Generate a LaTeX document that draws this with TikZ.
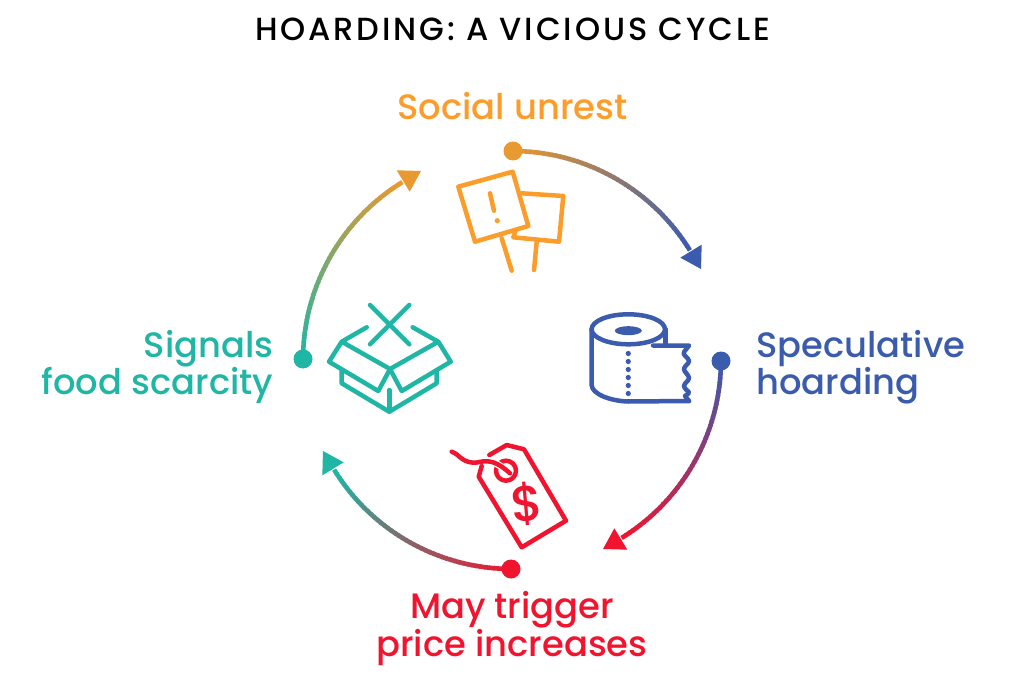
\documentclass[tikz,border=0pt]{standalone}
\usepackage{fontspec}
\setmainfont{Poppins Medium}
\newfontfamily\titlefont[LetterSpace=9]{Poppins Medium}
\usetikzlibrary{calc}
\definecolor{corange}{HTML}{FC9D2B}
\definecolor{cdot}{HTML}{E8992F}
\definecolor{cblue}{HTML}{3B5BAD}
\definecolor{cred}{HTML}{F0142F}
\definecolor{cteal}{HTML}{1FB6A5}
\tikzset{
 lab/.style={inner sep=0pt,font=\fontsize{35.3}{36}\selectfont,align=#1},
 lab/.default=center,
 icon/.style={line width=4.5pt,line cap=round,line join=round},
 dotnode/.style={circle,inner sep=0pt,minimum size=19pt,fill=#1},
}
\newcommand{\gradarc}[5]{% start angle, colour A, colour B, tip name, start node
 \foreach \i in {0,...,47}{
  \pgfmathsetmacro{\aa}{#1+\i*58/48}
  \pgfmathsetmacro{\ab}{#1+(\i+1.3)*58/48}
  \pgfmathsetmacro{\pp}{100-\i*100/47}
  \draw[line width=4.6pt,color=#3!\pp!#2] ($(c)+(\aa:209)$) -- ($(c)+(\ab:209)$);
 }
 \pgfmathsetmacro{\at}{#1+64.3}
 \pgfmathsetmacro{\ac}{#1+58.7}
 \coordinate (#4) at ($(c)+(\at:209.8)$);
 \fill[color=#2] (#4) -- ($(c)+(\ac:222)$) -- ($(c)+(\ac:197)$) -- cycle;
}
\begin{document}
\begin{tikzpicture}[x=1pt,y=-1pt]
\useasboundingbox (0,0) rectangle (1024,700);
\coordinate (c) at (512,360);
\node[inner sep=0pt,font=\titlefont\fontsize{32}{32}\selectfont,anchor=base] (title) at (512.5,41) {HOARDING: A VICIOUS CYCLE};
% arcs
\newcommand{\arcone}[3]{\gradarc{#1}{#3}{#2}{tip#1}{}}
\arcone{-90}{cdot}{cblue}
\arcone{0}{cblue}{cred}
\arcone{90}{cred}{cteal}
\arcone{180}{cteal}{cdot}
\node[dotnode=cdot] (d1) at (513,151) {};
\node[dotnode=cblue] (d2) at (721,361) {};
\node[dotnode=cred] (d3) at (511,569) {};
\node[dotnode=cteal] (d4) at (303,359) {};
% labels
\node[lab,text=corange,anchor=base] (l1) at (512.5,119.5) {Social unrest};
\node[lab=left,text=cblue,anchor=west] (l2) at (756,367) {Speculative\\hoarding};
\node[lab,text=cred,anchor=center] (l3) at (512,628.5) {May trigger\\price increases};
\node[lab=right,text=cteal,anchor=east] (l4) at (273.5,367) {Signals\\food scarcity};
% signs
\begin{scope}[icon,draw=corange]
 \draw (458.3,186.7) -- (512.7,171.7) -- (528.3,226) -- (475,241.7) -- cycle;
 \draw (501.7,238.3) -- (511.7,270.7);
 \draw (521.7,193.3) -- (563.3,196) -- (559,241.7) -- (513.3,237.3) -- (515.5,231);
 \draw (536.7,241.7) -- (534,270);
 \draw (490,193.3) -- (494,210.7);
 \fill[corange] (497.3,220.7) circle (2.6);
\end{scope}
% roll
\begin{scope}[icon,draw=cblue]
 \draw (628.3,329.3) ellipse [x radius=36.7,y radius=15];
 \fill[cblue] (628.3,330.7) ellipse [x radius=13.5,y radius=4.5];
 \draw (591.6,329.3) -- (591.6,385) .. controls (592,394) and (610,401) .. (628.3,401.5) -- (689,401);
 \draw (665.7,329.3) -- (665.7,345);
 \draw (653,345.5) -- (689,345.5) -- (684,352) .. controls (682,355) and (689,358) .. (689,361) .. controls (689,364) and (684,366) .. (684,369) .. controls (684,372) and (689,375) .. (689,378) .. controls (689,381) and (684,383) .. (684,386) .. controls (684,389) and (689,391) .. (689,393) -- (685,396) -- (689,401);
 \foreach \yy in {353.5,361.5,369.5,377.5,385.5,393.5}
  \fill[cblue] (628.3,\yy) circle (2.6);
\end{scope}
% tag
\begin{scope}[icon,draw=cred]
 \draw (489.3,455) -- (506.7,445) -- (524,449.3) -- (566,520.7) -- (521.7,547.3) -- (478.7,476.7) -- (481.7,466);
 \draw (506,470.7) circle (10);
 \draw[white,line width=7pt,line cap=butt] (476,461.5) .. controls (484,459) and (494,460) .. (504,469);
 \draw (451.7,451.7) .. controls (458,453) and (461,462) .. (473.3,462.7) .. controls (482,463) and (490,455) .. (510,473.3);
 \node[text=cred,font=\fontsize{50}{50}\selectfont,inner sep=0pt,rotate=5] (dollar) at (527,504) {\$};
\end{scope}
% box
\begin{scope}[icon,draw=cteal]
 \draw (370,305) -- (409.3,344.3);
 \draw (409.3,305) -- (370,344.3);
 \draw (366.7,327.3) -- (341.7,341.7) -- (329,361.7) -- (378.3,391) -- (390,369) -- (341.7,341.7);
 \draw (412.7,327.3) -- (438.3,341.7) -- (450.7,361.7) -- (401.7,391) -- (390,369) -- (438.3,341.7);
 \draw (341.7,370) -- (341.7,383.3) -- (389.3,411.7) -- (436.7,383.3) -- (436.7,370);
 \draw (389.3,390) -- (389.3,411.7);
\end{scope}
\end{tikzpicture}
\end{document}
